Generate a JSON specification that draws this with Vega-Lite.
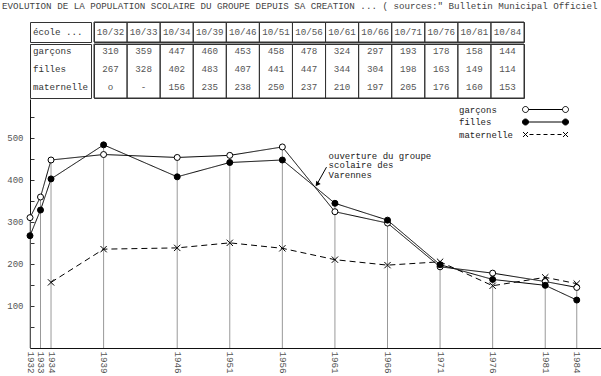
{
  "$schema": "https://vega.github.io/schema/vega-lite/v6.json",
  "background": "white",
  "padding": {"left": 2, "top": 1, "right": 0, "bottom": 0},
  "title": {
    "text": "EVOLUTION DE LA POPULATION SCOLAIRE DU GROUPE DEPUIS SA CREATION ... ( sources:\" Bulletin Municipal Officiel",
    "anchor": "start", "font": "Liberation Mono", "fontSize": 9.2, "fontWeight": "normal",
    "color": "#444", "offset": 10
  },
  "datasets": {
    "table": [
      {"col": "10/32", "garçons": "310", "filles": "267", "maternelle": "o"},
      {"col": "10/33", "garçons": "359", "filles": "328", "maternelle": "-"},
      {"col": "10/34", "garçons": "447", "filles": "402", "maternelle": "156"},
      {"col": "10/39", "garçons": "460", "filles": "483", "maternelle": "235"},
      {"col": "10/46", "garçons": "453", "filles": "407", "maternelle": "238"},
      {"col": "10/51", "garçons": "458", "filles": "441", "maternelle": "250"},
      {"col": "10/56", "garçons": "478", "filles": "447", "maternelle": "237"},
      {"col": "10/61", "garçons": "324", "filles": "344", "maternelle": "210"},
      {"col": "10/66", "garçons": "297", "filles": "304", "maternelle": "197"},
      {"col": "10/71", "garçons": "193", "filles": "198", "maternelle": "205"},
      {"col": "10/76", "garçons": "178", "filles": "163", "maternelle": "176"},
      {"col": "10/81", "garçons": "158", "filles": "149", "maternelle": "160"},
      {"col": "10/84", "garçons": "144", "filles": "114", "maternelle": "153"}
    ],
    "pop": [
      {"year": 1932, "series": "garçons", "value": 310},
      {"year": 1933, "series": "garçons", "value": 359},
      {"year": 1934, "series": "garçons", "value": 447},
      {"year": 1939, "series": "garçons", "value": 460},
      {"year": 1946, "series": "garçons", "value": 453},
      {"year": 1951, "series": "garçons", "value": 458},
      {"year": 1956, "series": "garçons", "value": 478},
      {"year": 1961, "series": "garçons", "value": 324},
      {"year": 1966, "series": "garçons", "value": 297},
      {"year": 1971, "series": "garçons", "value": 193},
      {"year": 1976, "series": "garçons", "value": 178},
      {"year": 1981, "series": "garçons", "value": 158},
      {"year": 1984, "series": "garçons", "value": 144},
      {"year": 1932, "series": "filles", "value": 267},
      {"year": 1933, "series": "filles", "value": 328},
      {"year": 1934, "series": "filles", "value": 402},
      {"year": 1939, "series": "filles", "value": 483},
      {"year": 1946, "series": "filles", "value": 407},
      {"year": 1951, "series": "filles", "value": 441},
      {"year": 1956, "series": "filles", "value": 447},
      {"year": 1961, "series": "filles", "value": 344},
      {"year": 1966, "series": "filles", "value": 304},
      {"year": 1971, "series": "filles", "value": 198},
      {"year": 1976, "series": "filles", "value": 163},
      {"year": 1981, "series": "filles", "value": 149},
      {"year": 1984, "series": "filles", "value": 114},
      {"year": 1934, "series": "maternelle", "value": 156},
      {"year": 1939, "series": "maternelle", "value": 235},
      {"year": 1946, "series": "maternelle", "value": 238},
      {"year": 1951, "series": "maternelle", "value": 250},
      {"year": 1956, "series": "maternelle", "value": 237},
      {"year": 1961, "series": "maternelle", "value": 210},
      {"year": 1966, "series": "maternelle", "value": 197},
      {"year": 1971, "series": "maternelle", "value": 205},
      {"year": 1976, "series": "maternelle", "value": 148},
      {"year": 1981, "series": "maternelle", "value": 168},
      {"year": 1984, "series": "maternelle", "value": 153}
    ]
  },
  "vconcat": [
    {
      "hconcat": [
        {
          "width": 61, "height": 20,
          "view": {"stroke": "#333", "strokeWidth": 1},
          "data": {"values": [{"row": "école ..."}]},
          "mark": {"type": "text", "align": "left", "dx": 3, "fontSize": 9.2, "color": "#333", "font": "Liberation Mono"},
          "encoding": {
            "x": {"datum": 0, "type": "quantitative", "scale": {"domain": [0, 1]}, "axis": null},
            "text": {"field": "row"}
          }
        },
        {
          "width": 430, "height": 20,
          "view": {"stroke": "#333", "strokeWidth": 1},
          "data": {"name": "table"},
          "encoding": {
            "x": {"field": "col", "type": "ordinal", "sort": null,
                  "scale": {"paddingInner": 0, "paddingOuter": 0}, "axis": null}
          },
          "layer": [
            {"mark": {"type": "rect", "fill": null, "fillOpacity": 0, "stroke": "#333", "strokeWidth": 1}},
            {"mark": {"type": "text", "fontSize": 9.2, "color": "#555", "font": "Liberation Mono"},
             "encoding": {"text": {"field": "col"}}}
          ]
        }
      ],
      "spacing": 0
    },
    {
      "hconcat": [
        {
          "width": 61, "height": 54,
          "view": {"stroke": "#333", "strokeWidth": 1},
          "data": {"values": [{"row": "garçons"}, {"row": "filles"}, {"row": "maternelle"}]},
          "mark": {"type": "text", "align": "left", "dx": 3, "dy": -2, "fontSize": 9.2, "color": "#333", "font": "Liberation Mono"},
          "encoding": {
            "x": {"datum": 0, "type": "quantitative", "scale": {"domain": [0, 1]}, "axis": null},
            "y": {"field": "row", "type": "nominal", "sort": null,
                  "scale": {"paddingInner": 0, "paddingOuter": 0}, "axis": null},
            "text": {"field": "row"}
          }
        },
        {
          "width": 430, "height": 54,
          "view": {"stroke": "#333", "strokeWidth": 1},
          "data": {"name": "table"},
          "encoding": {
            "x": {"field": "col", "type": "ordinal", "sort": null,
                  "scale": {"paddingInner": 0, "paddingOuter": 0}, "axis": null}
          },
          "layer": [
            {"mark": {"type": "rect", "fill": null, "fillOpacity": 0, "stroke": "#333", "strokeWidth": 1}},
            {"transform": [{"fold": ["garçons", "filles", "maternelle"], "as": ["row", "txt"]}],
             "mark": {"type": "text", "dy": -2, "fontSize": 9.2, "color": "#555", "font": "Liberation Mono"},
             "encoding": {
               "y": {"field": "row", "type": "nominal",
                     "scale": {"domain": ["garçons", "filles", "maternelle"], "paddingInner": 0, "paddingOuter": 0},
                     "axis": null},
               "text": {"field": "txt"}
             }}
          ]
        }
      ],
      "spacing": 0
    },
    {
      "width": 572, "height": 249,
      "view": {"stroke": null},
      "data": {"name": "pop"},
      "encoding": {
        "x": {"field": "year", "type": "quantitative",
              "scale": {"domain": [1932, 1986.4], "nice": false, "zero": false},
              "axis": {"values": [1932, 1933, 1934, 1939, 1946, 1951, 1956, 1961, 1966, 1971, 1976, 1981, 1984],
                       "format": "d", "labelAngle": 90, "labelFlush": false, "labelOverlap": false, "labelBound": false,
                       "ticks": false, "grid": false, "title": null, "domainColor": "#111",
                       "labelFont": "Liberation Mono", "labelFontSize": 9.2, "labelColor": "#555", "labelPadding": 3}},
        "y": {"field": "value", "type": "quantitative",
              "scale": {"domain": [0, 592], "nice": false},
              "axis": {"values": [50, 100, 150, 200, 250, 300, 350, 400, 450, 500, 550],
                       "labelExpr": "datum.value % 100 === 0 ? datum.label : ''",
                       "tickSize": -4, "tickColor": "#333", "labelPadding": 11, "minExtent": 28, "grid": false, "title": null,
                       "domainColor": "#111", "labelFont": "Liberation Mono", "labelFontSize": 9, "labelColor": "#555"}}
      },
      "layer": [
        {
          "transform": [{"aggregate": [{"op": "max", "field": "value", "as": "top"}], "groupby": ["year"]}],
          "mark": {"type": "rule", "color": "#999", "strokeWidth": 1},
          "encoding": {
            "y": {"field": "top", "type": "quantitative"},
            "y2": {"datum": 0}
          }
        },
        {
          "mark": {"type": "line", "color": "black", "strokeWidth": 1},
          "encoding": {
            "detail": {"field": "series"},
            "strokeDash": {"field": "series", "type": "nominal",
                           "scale": {"domain": ["garçons", "filles", "maternelle"], "range": [[1, 0], [1, 0], [6, 4]]},
                           "legend": null}
          }
        },
        {
          "transform": [{"filter": "datum.series === 'garçons'"}],
          "mark": {"type": "point", "shape": "circle", "filled": true, "fill": "white", "stroke": "black", "strokeWidth": 1, "size": 36, "opacity": 1}
        },
        {
          "transform": [{"filter": "datum.series === 'filles'"}],
          "mark": {"type": "point", "shape": "circle", "filled": true, "fill": "black", "stroke": "black", "strokeWidth": 1, "size": 36, "opacity": 1}
        },
        {
          "transform": [{"filter": "datum.series === 'maternelle'"}],
          "mark": {"type": "point", "shape": "M-1,-1L1,1M-1,1L1,-1", "filled": false, "stroke": "black", "strokeWidth": 1, "size": 40, "opacity": 1}
        },
        {
          "transform": [{"filter": "false"}],
          "mark": {"type": "point", "filled": false, "opacity": 1},
          "encoding": {
            "shape": {"field": "series", "type": "nominal",
                      "scale": {"domain": ["garçons", "filles", "maternelle"],
                                "range": [
                                  "M-3.4,0L3.4,0M-3.4,0A0.6,0.6,0,1,1,-4.6,0A0.6,0.6,0,1,1,-3.4,0M4.6,0A0.6,0.6,0,1,1,3.4,0A0.6,0.6,0,1,1,4.6,0",
                                  "M-3.4,0L3.4,0M-3.4,0A0.6,0.6,0,1,1,-4.6,0A0.6,0.6,0,1,1,-3.4,0M4.6,0A0.6,0.6,0,1,1,3.4,0A0.6,0.6,0,1,1,4.6,0",
                                  "M-4.5,-0.5L-3.5,0.5M-4.5,0.5L-3.5,-0.5M3.5,-0.5L4.5,0.5M3.5,0.5L4.5,-0.5M-3.2,0L-2.4,0M-1.8,0L-1,0M-0.4,0L0.4,0M1,0L1.8,0M2.4,0L3.2,0"
                                ]},
                      "legend": {
                        "orient": "none", "legendX": 510, "legendY": 5, "title": null,
                        "labelFont": "Liberation Mono", "labelFontSize": 9, "labelColor": "#222",
                        "symbolSize": 100, "symbolStrokeWidth": 1, "symbolStrokeColor": "black",
                        "labelOffset": -92, "rowPadding": 1.5, "padding": 0
                      }},
            "fill": {"field": "series", "type": "nominal",
                     "scale": {"domain": ["garçons", "filles", "maternelle"], "range": ["white", "black", "transparent"]},
                     "legend": {
                        "orient": "none", "legendX": 510, "legendY": 5, "title": null,
                        "labelFont": "Liberation Mono", "labelFontSize": 9, "labelColor": "#222",
                        "symbolSize": 100, "symbolStrokeWidth": 1, "symbolStrokeColor": "black",
                        "labelOffset": -92, "rowPadding": 1.5, "padding": 0
                      }},
            "stroke": {"field": "series", "type": "nominal",
                     "scale": {"domain": ["garçons", "filles", "maternelle"], "range": ["black", "black", "black"]},
                     "legend": {
                        "orient": "none", "legendX": 510, "legendY": 5, "title": null,
                        "labelFont": "Liberation Mono", "labelFontSize": 9, "labelColor": "#222",
                        "symbolSize": 100, "symbolStrokeWidth": 1, "symbolStrokeColor": "black",
                        "labelOffset": -92, "rowPadding": 1.5, "padding": 0
                      }}
          }
        },
        {
          "transform": [{"filter": "datum.year === 1961 && datum.series === 'garçons'"}],
          "mark": {"type": "text", "text": ["ouverture du groupe", "scolaire des", "Varennes"],
                   "align": "left", "baseline": "top", "lineHeight": 9.5, "fontSize": 9, "color": "#222", "font": "Liberation Mono"},
          "encoding": {"x": {"datum": 1960.4}, "y": {"datum": 466}}
        },
        {
          "transform": [{"filter": "datum.year === 1961 && datum.series === 'garçons'"}],
          "mark": {"type": "rule", "color": "black", "strokeWidth": 1},
          "encoding": {"x": {"datum": 1960.2}, "y": {"datum": 430}, "x2": {"datum": 1959.35}, "y2": {"datum": 392}}
        },
        {
          "transform": [{"filter": "datum.year === 1961 && datum.series === 'garçons'"}],
          "mark": {"type": "point", "shape": "triangle-up", "filled": true, "color": "black", "size": 30, "angle": 216, "opacity": 1},
          "encoding": {"x": {"datum": 1959.3}, "y": {"datum": 389}}
        }
      ]
    }
  ],
  "spacing": 0,
  "resolve": {
    "scale": {"shape": "independent", "fill": "independent", "stroke": "independent"},
    "legend": {"shape": "independent", "fill": "independent", "stroke": "independent"}
  },
  "config": {
    "font": "Liberation Mono",
    "view": {"stroke": null}
  }
}
